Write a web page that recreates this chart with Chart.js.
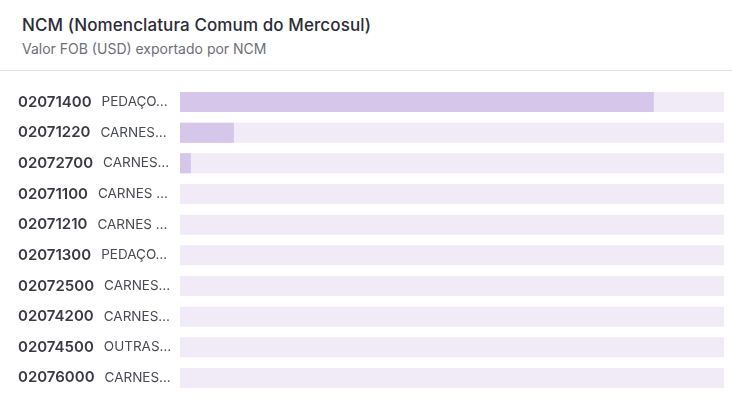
<!DOCTYPE html>
<html>
<head>
<meta charset="utf-8">
<script src="https://cdn.jsdelivr.net/npm/chart.js@4"></script>
<style>
  html, body { margin: 0; padding: 0; background: #fff; }
  body { width: 732px; height: 398px; position: relative; overflow: hidden; font-family: Inter, 'Noto Sans', sans-serif; }
  .head { position: absolute; left: 0; top: 0; width: 732px; height: 70px; border-bottom: 1px solid #e3e3ea; }
  .title { position: absolute; left: 22px; top: 15px; font-size: 17px; font-weight: 500; color: #2c2c38; letter-spacing: 0.1px; }
  .sub { position: absolute; left: 22px; top: 40px; font-size: 14px; color: #6e6e7a; }
  .wrap { position: absolute; left: 0; top: 71px; width: 732px; height: 327px; }
</style>
</head>
<body>
<div class="head">
  <div class="title">NCM (Nomenclatura Comum do Mercosul)</div>
  <div class="sub">Valor FOB (USD) exportado por NCM</div>
</div>
<div class="wrap"><canvas id="ncmChart"></canvas></div>
<script>
// dados
const codes = ['02071400', '02071220', '02072700', '02071100', '02071210', '02071300', '02072500', '02074200', '02074500', '02076000'];
const names = ['PEDAÇO…', 'CARNES…', 'CARNES…', 'CARNES …', 'CARNES …', 'PEDAÇO…', 'CARNES…', 'CARNES…', 'OUTRAS…', 'CARNES…'];
const values = [4355000, 495000, 100000, 0, 0, 0, 0, 0, 0, 0];
const maxValue = 5000000;
const track = codes.map(() => maxValue);

// rótulos desenhados no eixo y: código em negrito + nome
const labelPlugin = {
  id: 'ncmLabels',
  afterDraw(chart) {
    const ctx = chart.ctx;
    const y = chart.scales.y;
    ctx.save();
    ctx.textBaseline = 'middle';
    codes.forEach((c, i) => {
      const py = y.getPixelForTick(i);
      ctx.font = '600 15px Inter, "Noto Sans", sans-serif';
      ctx.fillStyle = '#3a3a46';
      ctx.fillText(c, 18, py);
      const w = ctx.measureText(c).width;
      ctx.font = '400 13.5px Inter, "Noto Sans", sans-serif';
      ctx.fillStyle = '#4a4a56';
      ctx.fillText(names[i], 18 + w + 10, py);
    });
    ctx.restore();
  }
};

new Chart(document.getElementById('ncmChart'), {
  type: 'bar',
  data: {
    labels: codes,
    datasets: [
      { label: 'Valor FOB', data: values, backgroundColor: '#d5c6ea', borderWidth: 0, order: 1,
        barPercentage: 0.652, categoryPercentage: 1, grouped: false },
      { label: 'track', data: track, backgroundColor: '#f1ebf8', borderWidth: 0, order: 2,
        barPercentage: 0.652, categoryPercentage: 1, grouped: false }
    ]
  },
  options: {
    indexAxis: 'y',
    responsive: true,
    maintainAspectRatio: false,
    animation: false,
    layout: { padding: { top: 15.7, bottom: 4.7, left: 0, right: 8 } },
    plugins: { legend: { display: false }, tooltip: { enabled: false } },
    scales: {
      x: { display: false, min: 0, max: maxValue },
      y: {
        grid: { display: false }, border: { display: false },
        ticks: { display: false },
        afterFit: s => { s.width = 180; }
      }
    }
  },
  plugins: [labelPlugin]
});
</script>
</body>
</html>
